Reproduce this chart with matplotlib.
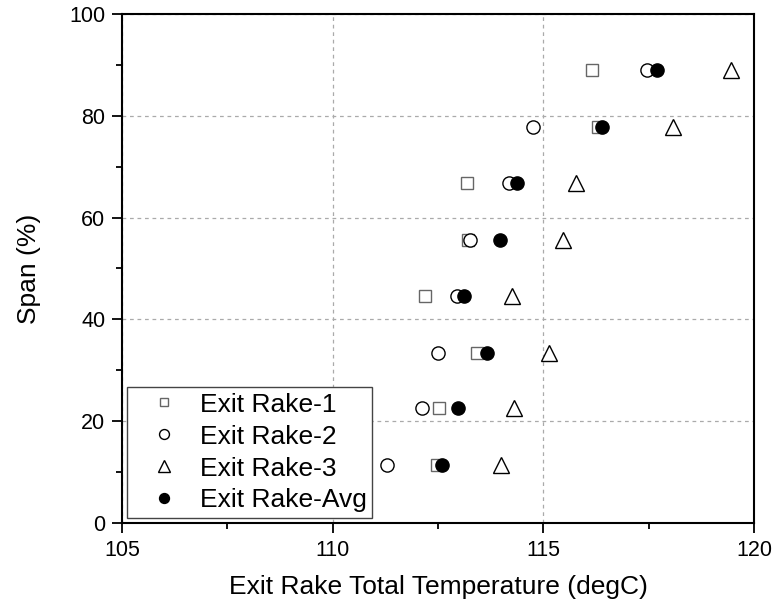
import matplotlib
matplotlib.use("Agg")
import matplotlib.pyplot as plt
from matplotlib.ticker import MultipleLocator

plt.rcParams['font.family'] = ['Liberation Sans', 'DejaVu Sans']

# span positions (%)
span = [11.3, 22.5, 33.4, 44.5, 55.6, 66.7, 77.8, 89.0]

# exit rake total temperature (degC) per rake
rake_1 = [112.48, 112.52, 113.43, 112.19, 113.21, 113.19, 116.30, 116.16]
rake_2 = [111.29, 112.12, 112.50, 112.95, 113.26, 114.19, 114.76, 117.46]
rake_3 = [114.00, 114.30, 115.14, 114.26, 115.47, 115.78, 118.08, 119.46]
rake_avg = [112.60, 112.98, 113.66, 113.12, 113.97, 114.38, 116.39, 117.70]

labels = ['Exit Rake-1', 'Exit Rake-2', 'Exit Rake-3', 'Exit Rake-Avg']


def main():
    fig = plt.figure(figsize=(7.83, 6.07), dpi=100)
    ax = fig.add_axes([0.1558, 0.1384, 0.8072, 0.8386])

    ax.plot(rake_1, span, 's', ms=8.5, mfc='white', mec='#666666', mew=1.0,
            label=labels[0], zorder=3)
    ax.plot(rake_2, span, 'o', ms=9.5, mfc='white', mec='black', mew=1.0,
            label=labels[1], zorder=3)
    ax.plot(rake_3, span, '^', ms=11, mfc='white', mec='black', mew=1.0,
            label=labels[2], zorder=3)
    ax.plot(rake_avg, span, 'o', ms=9.5, mfc='black', mec='black', mew=1.0,
            label=labels[3], zorder=4)

    ax.set_xlim(105, 120)
    ax.set_ylim(0, 100)
    ax.xaxis.set_major_locator(MultipleLocator(5))
    ax.xaxis.set_minor_locator(MultipleLocator(2.5))
    ax.yaxis.set_major_locator(MultipleLocator(20))
    ax.yaxis.set_minor_locator(MultipleLocator(10))
    ax.tick_params(which='major', direction='out', length=7, width=1.3,
                   labelsize=15.5, pad=5)
    ax.tick_params(which='minor', direction='out', length=4, width=1.3)
    for s in ax.spines.values():
        s.set_linewidth(1.5)

    ax.grid(True, which='major', color='#aaaaaa', linestyle=(0, (3, 3)),
            linewidth=0.9)
    ax.set_axisbelow(True)

    ax.set_xlabel('Exit Rake Total Temperature (degC)', fontsize=19,
                  labelpad=10)
    ax.set_ylabel('Span (%)', fontsize=19, labelpad=20)

    leg = ax.legend(loc='lower left', fontsize=19, frameon=True,
                    fancybox=False, borderaxespad=0.2, handletextpad=0.2,
                    markerscale=0.75, labelspacing=0.3, borderpad=0.2,
                    handlelength=2.35)
    leg.get_frame().set_edgecolor('#444444')
    leg.get_frame().set_linewidth(1.0)
    leg.get_frame().set_alpha(1)

    fig.savefig('out.png', dpi=100)


if __name__ == "__main__":
    main()
